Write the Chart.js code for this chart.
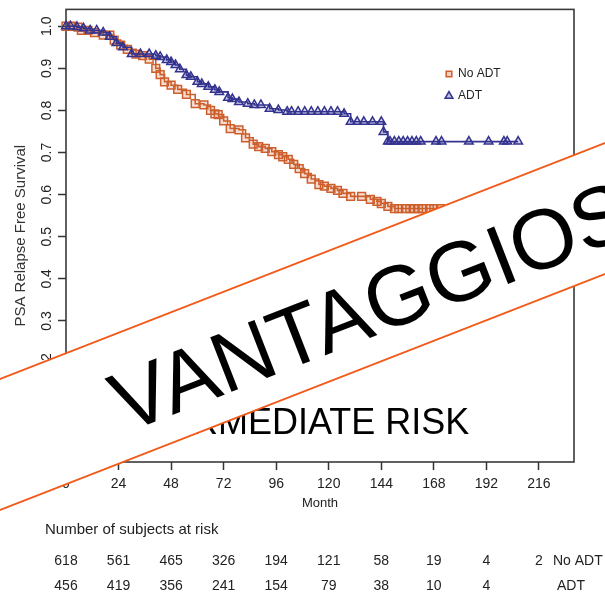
<!DOCTYPE html>
<html>
<head>
<meta charset="utf-8">
<script src="https://cdn.jsdelivr.net/npm/chart.js@4.4.0/dist/chart.umd.min.js"></script>
<style>
    html, body { margin: 0; padding: 0; background: #fff; }
    #wrap { width: 605px; height: 595px; }
</style>
</head>
<body>
<div id="wrap"><canvas id="km" width="605" height="595"></canvas></div>
<script>
/* --- datos ------------------------------------------------------------- */
const noAdtMonths = [0, 3, 5.5, 7, 10, 13, 17, 20, 22, 25, 28, 32, 35, 38, 41, 43, 45, 48, 51, 55,
    59, 63, 66, 68, 69.5, 72, 75, 79, 82, 85.5, 88, 91, 94, 97, 99, 101.5, 104, 106.5, 109, 112,
    115.5, 118, 121, 124, 126.5, 130, 135, 139, 142, 144, 147, 150, 152, 155, 157, 159, 161, 163, 166, 168, 171];
const noAdtSurv = [1.0, 1.0, 0.998, 0.99, 0.99, 0.985, 0.979, 0.979, 0.967, 0.955, 0.945, 0.934, 0.93, 0.922, 0.9, 0.885, 0.868, 0.86, 0.85, 0.838,
    0.816, 0.813, 0.8, 0.792, 0.79, 0.775, 0.757, 0.754, 0.735, 0.72, 0.714, 0.71, 0.702, 0.695, 0.69, 0.684, 0.672, 0.662, 0.65, 0.637,
    0.624, 0.62, 0.615, 0.61, 0.603, 0.596, 0.596, 0.589, 0.584, 0.579, 0.572, 0.567, 0.567, 0.567, 0.567, 0.567, 0.567, 0.567, 0.567, 0.567, 0.567];

const adtMonths = [0, 2, 5, 8, 11, 14, 17, 20, 23, 26, 30, 34, 38, 41, 43, 46, 48, 50, 52, 55,
    57, 60, 62, 65, 68, 70, 74, 76, 79, 83, 86, 89, 93, 97, 101, 103, 106, 109, 112, 115,
    118, 121, 124, 127, 130, 133, 136, 140, 144, 145, 147, 148, 150, 152, 154, 156, 158, 160, 162, 169,
    171.5, 184, 193, 200, 201.5, 206.5];
const adtSurv = [1.0, 1.0, 0.998, 0.995, 0.99, 0.99, 0.985, 0.975, 0.96, 0.95, 0.934, 0.934, 0.934, 0.93, 0.927, 0.92, 0.915, 0.908, 0.898, 0.884,
    0.88, 0.868, 0.863, 0.856, 0.849, 0.844, 0.83, 0.827, 0.82, 0.816, 0.813, 0.813, 0.804, 0.801, 0.797, 0.797, 0.797, 0.797, 0.797, 0.797,
    0.797, 0.797, 0.797, 0.792, 0.773, 0.773, 0.773, 0.773, 0.773, 0.749, 0.726, 0.726, 0.726, 0.726, 0.726, 0.726, 0.726, 0.726, 0.726, 0.726,
    0.726, 0.726, 0.726, 0.726, 0.726, 0.726];

const monthTicks = [0, 24, 48, 72, 96, 120, 144, 168, 192, 216];
const survTicks = [0, 0.1, 0.2, 0.3, 0.4, 0.5, 0.6, 0.7, 0.8, 0.9, 1.0];

const riskNoAdt = [618, 561, 465, 326, 194, 121, 58, 19, 4, 2];
const riskAdt = [456, 419, 356, 241, 154, 79, 38, 10, 4];

const NARANJA = '#cd5f2d';
const AZUL = '#34338f';
const FUENTE = "'Liberation Sans', Arial, sans-serif";

/* --- plugin: caja, leyenda, tabla de riesgo y banda ---------------------- */
const extras = {
    id: 'extras',
    beforeDatasetsDraw(chart) {
        const { ctx, chartArea: a } = chart;
        ctx.save();
        ctx.strokeStyle = '#3a3a3a';
        ctx.lineWidth = 1.6;
        ctx.strokeRect(a.left, a.top, a.right - a.left, a.bottom - a.top);
        ctx.restore();
    },
    afterDraw(chart) {
        const { ctx, chartArea: a, scales: { x } } = chart;
        ctx.save();

        // texto dentro del grafico
        ctx.fillStyle = '#000';
        ctx.font = '36px ' + FUENTE;
        ctx.textBaseline = 'alphabetic';
        ctx.fillText('INTERMEDIATE RISK', 110, 434);

        // leyenda
        ctx.lineWidth = 1.5;
        ctx.strokeStyle = NARANJA;
        ctx.fillStyle = 'rgba(205,95,45,0.3)';
        Chart.helpers.drawPoint(ctx, { pointStyle: 'rect', radius: 4, borderWidth: 1.5 }, 449, 74);
        ctx.strokeStyle = AZUL;
        ctx.fillStyle = 'rgba(52,51,143,0.3)';
        Chart.helpers.drawPoint(ctx, { pointStyle: 'triangle', radius: 4.5, borderWidth: 1.5 }, 449, 96);
        ctx.fillStyle = '#222';
        ctx.font = '12px ' + FUENTE;
        ctx.textBaseline = 'middle';
        ctx.textAlign = 'left';
        ctx.fillText('No ADT', 458, 74);
        ctx.fillText('ADT', 458, 96);

        // eje x: titulo
        ctx.font = '13px ' + FUENTE;
        ctx.textAlign = 'center';
        ctx.fillText('Month', (a.left + a.right) / 2, 503);

        // tabla de sujetos en riesgo
        ctx.textAlign = 'left';
        ctx.font = '15px ' + FUENTE;
        ctx.fillText('Number of subjects at risk', 45, 530);
        ctx.font = '14px ' + FUENTE;
        ctx.textAlign = 'center';
        riskNoAdt.forEach((n, i) => ctx.fillText(String(n), x.getPixelForValue(monthTicks[i]), 561));
        riskAdt.forEach((n, i) => ctx.fillText(String(n), x.getPixelForValue(monthTicks[i]), 586));
        ctx.textAlign = 'left';
        ctx.fillText('No ADT', 553, 561);
        ctx.fillText('ADT', 557, 586);

        // banda diagonal
        const ang = Math.atan(0.39);
        ctx.translate(0, 379);
        ctx.rotate(-ang);
        ctx.fillStyle = '#fff';
        ctx.fillRect(-80, 0, 900, 122);
        ctx.strokeStyle = '#f25a1a';
        ctx.lineWidth = 2;
        ctx.beginPath();
        ctx.moveTo(-80, 0); ctx.lineTo(820, 0);
        ctx.moveTo(-80, 122); ctx.lineTo(820, 122);
        ctx.stroke();
        ctx.fillStyle = '#000';
        ctx.font = '85px ' + FUENTE;
        ctx.textAlign = 'left';
        ctx.textBaseline = 'alphabetic';
        ctx.fillText('VANTAGGIOSO', 97, 96);

        ctx.restore();
    }
};

function toXY(meses, valores) {
    return meses.map((m, i) => ({ x: m, y: valores[i] }));
}

Chart.defaults.font.family = FUENTE;
Chart.defaults.color = '#222';

new Chart(document.getElementById('km'), {
    type: 'line',
    data: {
        datasets: [
            {
                label: 'ADT',
                data: toXY(adtMonths, adtSurv),
                order: 0,
                stepped: 'before',
                borderColor: AZUL,
                borderWidth: 1.6,
                pointStyle: 'triangle',
                pointRadius: 5,
                pointBorderWidth: 1.5,
                pointBorderColor: AZUL,
                pointBackgroundColor: 'rgba(52,51,143,0.2)',
                fill: false,
                clip: 8
            },
            {
                label: 'No ADT',
                data: toXY(noAdtMonths, noAdtSurv),
                order: 1,
                stepped: 'before',
                borderColor: NARANJA,
                borderWidth: 1.6,
                pointStyle: 'rect',
                pointRadius: 5.5,
                pointBorderWidth: 1.5,
                pointBorderColor: NARANJA,
                pointBackgroundColor: 'rgba(205,95,45,0.2)',
                fill: false,
                clip: 8
            }
        ]
    },
    options: {
        responsive: false,
        animation: false,
        devicePixelRatio: 1,
        layout: { padding: { top: 7, right: 31, left: 0, bottom: 0 } },
        plugins: { legend: { display: false }, tooltip: { enabled: false } },
        scales: {
            x: {
                type: 'linear',
                min: 0,
                max: 232,
                afterBuildTicks: s => { s.ticks = monthTicks.map(v => ({ value: v })); },
                afterFit: s => { s.height = 133; },
                grid: { display: true, drawOnChartArea: false, tickLength: 8, tickColor: '#333', tickWidth: 1.5 },
                border: { display: false },
                ticks: { autoSkip: false, maxRotation: 0, padding: 6, color: '#222', font: { size: 14 } }
            },
            y: {
                type: 'linear',
                min: -0.035,
                max: 1.04,
                afterBuildTicks: s => { s.ticks = survTicks.map(v => ({ value: v })); },
                afterFit: s => { s.width = 66; },
                grid: { display: true, drawOnChartArea: false, tickLength: 8, tickColor: '#333', tickWidth: 1.5 },
                border: { display: false },
                ticks: {
                    autoSkip: false, minRotation: 90, maxRotation: 90, crossAlign: 'center', padding: 1,
                    color: '#222', font: { size: 14 },
                    callback: v => Number(v).toFixed(1)
                },
                title: { display: true, text: 'PSA Relapse Free Survival', color: '#333', font: { size: 15 }, padding: { top: 12, bottom: 0 } }
            }
        }
    },
    plugins: [extras]
});
</script>
</body>
</html>
